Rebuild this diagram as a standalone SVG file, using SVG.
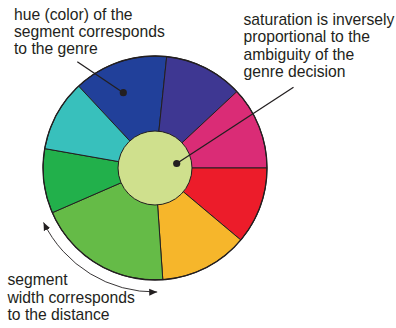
<svg xmlns="http://www.w3.org/2000/svg" width="396" height="328" viewBox="0 0 396 328">
<style>
.lbl{font-family:"Liberation Sans",Arial,sans-serif;font-size:15.7px;fill:#231f20}
.seg{stroke:#231f20;stroke-width:1;stroke-linejoin:round}
.ptr{stroke:#231f20;stroke-width:1.3;fill:none}
.dot{fill:#231f20}
</style>
<defs>
<marker id="ah" markerUnits="userSpaceOnUse" markerWidth="10" markerHeight="8" refX="8" refY="4" orient="auto-start-reverse">
<path d="M0,0.5 L8,4 L0,7.5 Z" fill="#231f20"/>
</marker>
</defs>
<rect width="396" height="328" fill="#ffffff"/>
<g id="wheel">
<path class="seg" fill="#21409a" d="M155,168 L78.6,86.1 A112,112 0 0 1 166.7,56.6 Z"/>
<path class="seg" fill="#3e3792" d="M155,168 L166.7,56.6 A112,112 0 0 1 236.9,91.6 Z"/>
<path class="seg" fill="#da2c76" d="M155,168 L236.9,91.6 A112,112 0 0 1 267,168 Z"/>
<path class="seg" fill="#ec1c2a" d="M155,168 L267,168 A112,112 0 0 1 240.8,240 Z"/>
<path class="seg" fill="#f6b62b" d="M155,168 L240.8,240 A112,112 0 0 1 162.8,279.7 Z"/>
<path class="seg" fill="#65bb47" d="M155,168 L162.8,279.7 A112,112 0 0 1 52.3,212.7 Z"/>
<path class="seg" fill="#22b04b" d="M155,168 L52.3,212.7 A112,112 0 0 1 44.7,148.6 Z"/>
<path class="seg" fill="#38c0bc" d="M155,168 L44.7,148.6 A112,112 0 0 1 78.6,86.1 Z"/>
<circle cx="155" cy="168" r="112" fill="none" stroke="#231f20" stroke-width="1.3"/>
</g>
<g id="center">
<circle cx="155" cy="168" r="37" fill="#cfe08d" stroke="#231f20" stroke-width="1"/>
</g>
<g id="connectors">
<line class="ptr" x1="77.3" y1="61.7" x2="123.3" y2="92.7"/>
<circle class="dot" cx="123.3" cy="92.7" r="3.6"/>
<line class="ptr" x1="293.5" y1="87.3" x2="176.7" y2="163.5"/>
<circle class="dot" cx="176.7" cy="163.5" r="3.6"/>
<path d="M43.55,222.4 A124,124 0 0 0 157.2,292" fill="none" stroke="#231f20" stroke-width="0.9" marker-start="url(#ah)" marker-end="url(#ah)"/>
</g>
<g id="label-hue">
<text class="lbl" x="14" y="19.5">hue (color) of the</text>
<text class="lbl" x="14" y="36.5">segment corresponds</text>
<text class="lbl" x="14" y="53.5">to the genre</text>
</g>
<g id="label-saturation">
<text class="lbl" x="243.5" y="24.5">saturation is inversely</text>
<text class="lbl" x="243.5" y="42">proportional to the</text>
<text class="lbl" x="243.5" y="59.5">ambiguity of the</text>
<text class="lbl" x="243.5" y="77">genre decision</text>
</g>
<g id="label-width">
<text class="lbl" x="7.5" y="285">segment</text>
<text class="lbl" x="7.5" y="302.5">width corresponds</text>
<text class="lbl" x="7.5" y="320">to the distance</text>
</g>
</svg>
